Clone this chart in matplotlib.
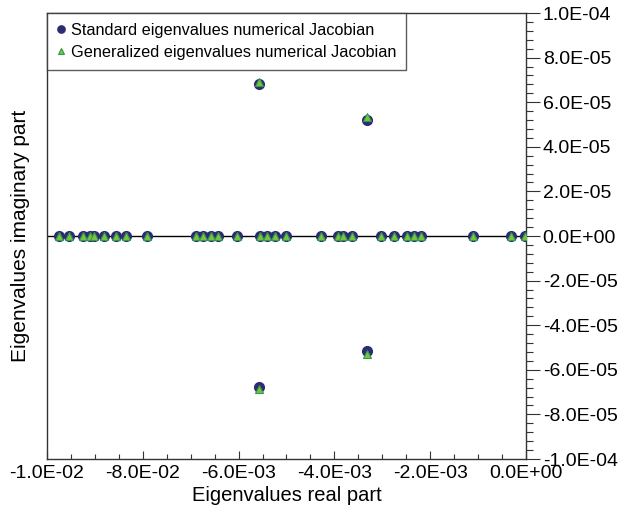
import matplotlib.pyplot as plt
from matplotlib.ticker import MultipleLocator, FixedLocator, FixedFormatter, FuncFormatter

plt.rcParams['font.family'] = ['Liberation Sans', 'DejaVu Sans']

# --- eigenvalues ---
real_on_axis = [-0.00974, -0.00954, -0.00924, -0.00910, -0.00902, -0.00882,
                -0.00856, -0.00835, -0.00791, -0.00688, -0.00675, -0.00658,
                -0.00642, -0.00604, -0.00555, -0.00541, -0.00524, -0.00501,
                -0.00427, -0.00393, -0.00381, -0.00364, -0.00303, -0.00276,
                -0.00249, -0.00233, -0.00220, -0.00110, -0.00031, -0.00002]

std_cplx_re = [-0.00557, -0.00557, -0.00332, -0.00332]
std_cplx_im = [6.80e-05, -6.78e-05, 5.18e-05, -5.15e-05]
gen_cplx_re = [-0.00557, -0.00557, -0.00332, -0.00332]
gen_cplx_im = [6.90e-05, -6.88e-05, 5.33e-05, -5.30e-05]

x_ticks = [-0.01, -0.008, -0.006, -0.004, -0.002, 0.0]
x_tick_labels = ["-1.0E-02", "-8.0E-02", "-6.0E-03", "-4.0E-03", "-2.0E-03", "0.0E+00"]
y_ticks = [-1e-4, -8e-5, -6e-5, -4e-5, -2e-5, 0.0, 2e-5, 4e-5, 6e-5, 8e-5, 1e-4]

std_re = real_on_axis + std_cplx_re
std_im = [0.0] * len(real_on_axis) + std_cplx_im
gen_re = real_on_axis + gen_cplx_re
gen_im = [0.0] * len(real_on_axis) + gen_cplx_im


def sci_fmt(v, pos):
    if abs(v) < 1e-12:
        v = 0.0
    return f"{v:.1E}"


# --- plot ---
fig = plt.figure(figsize=(6.21, 5.14), dpi=100)
ax = fig.add_axes([0.0757, 0.107, 0.7713, 0.8677])

ax.axhline(0, color='black', lw=1.0, zorder=1)

ax.plot(std_re, std_im, 'o', color='#2e2b74', markersize=7, mec='#2e2b74',
        label="Standard eigenvalues numerical Jacobian", zorder=3)
ax.plot(gen_re, gen_im, '^', color='#7cc242', markersize=6, mec='#2f9a4a', mew=0.8,
        label="Generalized eigenvalues numerical Jacobian", zorder=4)

ax.set_xlim(-0.01, 0.0)
ax.set_ylim(-1e-4, 1e-4)

ax.xaxis.set_major_locator(FixedLocator(x_ticks))
ax.xaxis.set_major_formatter(FixedFormatter(x_tick_labels))
ax.xaxis.set_minor_locator(MultipleLocator(0.0005))
ax.yaxis.set_major_locator(FixedLocator(y_ticks))
ax.yaxis.set_minor_locator(MultipleLocator(4e-6))
ax.yaxis.set_major_formatter(FuncFormatter(sci_fmt))

ax.yaxis.tick_right()
ax.tick_params(axis='x', which='major', direction='in', length=6, width=0.8,
               labelsize=14, pad=4, colors='#333333', labelcolor='black')
ax.tick_params(axis='x', which='minor', direction='in', length=3.5, width=0.8, colors='#333333')
ax.tick_params(axis='y', which='major', direction='out', length=10, width=0.8,
               labelsize=14, pad=2, colors='#333333', labelcolor='black')
ax.tick_params(axis='y', which='minor', direction='out', length=5, width=0.8, colors='#333333')

for s in ax.spines.values():
    s.set_linewidth(1.0)
    s.set_color('#333333')

ax.set_xlabel("Eigenvalues real part", fontsize=14.5, labelpad=3)
ax.set_ylabel("Eigenvalues imaginary part", fontsize=15, labelpad=12)
ax.yaxis.set_label_position('left')

leg = ax.legend(loc='upper left', bbox_to_anchor=(0, 1), borderaxespad=0,
                fontsize=11.7, frameon=True, fancybox=False, handlelength=0.5,
                handletextpad=0.35, borderpad=0.6, labelspacing=0.45, markerscale=0.75)
leg.get_frame().set_edgecolor('#333333')
leg.get_frame().set_linewidth(1.0)

fig.savefig("out.png", dpi=100)
